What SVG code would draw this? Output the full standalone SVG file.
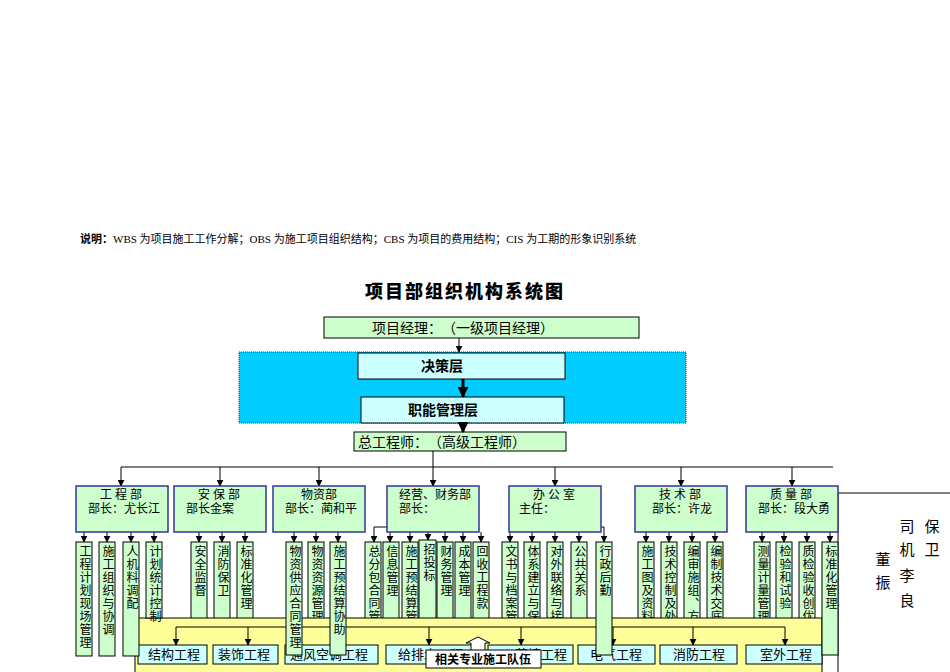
<svg xmlns="http://www.w3.org/2000/svg" width="950" height="672" viewBox="0 0 950 672">
<defs>
<marker id="a" viewBox="0 0 10 10" refX="9" refY="5" markerWidth="7" markerHeight="7" markerUnits="userSpaceOnUse" orient="auto"><path d="M0,0L10,5L0,10z" fill="#000"/></marker>
<marker id="b" viewBox="0 0 10 10" refX="9" refY="5" markerWidth="11" markerHeight="11" markerUnits="userSpaceOnUse" orient="auto"><path d="M0,0L10,5L0,10z" fill="#000"/></marker>
<style>
text{font-family:"Liberation Serif","Noto Sans CJK SC",serif;fill:#000}
.g{fill:#ccffcc;stroke:#000;stroke-width:1}
.d{fill:#ccffcc;stroke:#333399;stroke-width:1.5}
.c{fill:#ccffff;stroke:#000;stroke-width:1}
.v{font-size:12px;writing-mode:vertical-rl;letter-spacing:1px}
.dt{font-size:12px}
.l{stroke:#000;fill:none;stroke-width:1}
.la{stroke:#000;fill:none;stroke-width:1;marker-end:url(#a)}
</style>
</defs>
<rect width="950" height="672" fill="#fff"/>
<text x="80" y="243" font-size="11"><tspan font-weight="bold">说明：</tspan>WBS 为项目施工工作分解；OBS 为施工项目组织结构；CBS 为项目的费用结构；CIS 为工期的形象识别系统</text>
<text x="465" y="298" font-size="18" font-weight="900" text-anchor="middle" font-family="Noto Sans CJK SC,sans-serif" letter-spacing="2">项目部组织机构系统图</text>
<g id="pm"><rect class="g" x="324" y="317" width="315" height="21"/><text x="372" y="333" font-size="14">项目经理：　（一级项目经理）</text></g>
<g id="band"><rect x="239" y="352" width="447" height="71" fill="#00ccff" stroke="#336" stroke-dasharray="1,1"/></g>
<g id="jc"><rect class="c" x="358" y="353" width="207" height="26"/><text x="421" y="371" font-size="14" font-weight="bold">决策层</text></g>
<g id="zn"><rect class="c" x="361" y="397" width="203" height="26"/><text x="408" y="415" font-size="14" font-weight="bold">职能管理层</text></g>
<g id="ce"><rect class="g" x="354" y="432" width="212" height="19"/><text x="358" y="447" font-size="14">总工程师：　（高级工程师）</text></g>
<g id="conn">
<path class="la" d="M459,338V352"/>
<path d="M463,379V397" stroke="#000" stroke-width="3" marker-end="url(#b)"/>
<path d="M463,423V432" stroke="#000" stroke-width="3" marker-end="url(#b)"/>
<path class="l" d="M121,467H833M433,451V467"/>
<path class="la" d="M121,467V486"/><path class="la" d="M220,467V486"/><path class="la" d="M319,467V486"/><path class="la" d="M433,467V486"/><path class="la" d="M555,467V486"/><path class="la" d="M681,467V486"/><path class="la" d="M792,467V486"/>
<path class="la" d="M84,532V542"/><path class="la" d="M107,532V542"/><path class="la" d="M131,532V542"/><path class="la" d="M154,532V542"/>
<path class="la" d="M199,532V542"/><path class="la" d="M222,532V542"/><path class="la" d="M245,532V542"/>
<path class="la" d="M294,532V542"/><path class="la" d="M316,532V542"/><path class="la" d="M338,532V542"/>
<path class="la" d="M390,532V542"/><path class="la" d="M410,532V542"/><path class="la" d="M428,532V540"/><path class="la" d="M445,532V542"/><path class="la" d="M463,532V542"/><path class="la" d="M481,532V542"/>
<path class="la" d="M510,532V542"/><path class="la" d="M532,532V542"/><path class="la" d="M555,532V542"/><path class="la" d="M579,532V542"/>
<path class="la" d="M646,532V542"/><path class="la" d="M669,532V542"/><path class="la" d="M692,532V542"/><path class="la" d="M715,532V542"/>
<path class="la" d="M762,532V542"/><path class="la" d="M784,532V542"/><path class="la" d="M807,532V542"/><path class="la" d="M830,532V542"/>
<path class="la" d="M387,527H374V542"/>
<path class="la" d="M601,527H604V542"/>
</g>
<g id="subs">
<g><rect class="g" x="191" y="542" width="16" height="80"/><text class="v" x="199" y="545">安全监督</text></g>
<g><rect class="g" x="214" y="542" width="16" height="80"/><text class="v" x="222" y="545">消防保卫</text></g>
<g><rect class="g" x="237" y="542" width="16" height="80"/><text class="v" x="245" y="545">标准化管理</text></g>
<g><rect class="g" x="308" y="542" width="16" height="80"/><text class="v" x="316" y="545">物资资源管理</text></g>
<g><rect class="g" x="365" y="542" width="16" height="80"/><text class="v" x="373" y="545">总分包合同管理</text></g>
<g><rect class="g" x="383" y="542" width="16" height="80"/><text class="v" x="391" y="545">信息管理</text></g>
<g><rect class="g" x="402" y="542" width="16" height="80"/><text class="v" x="410" y="545">施工预结算管理</text></g>
<g><rect class="g" x="419" y="540" width="17" height="82"/><text class="v" x="428" y="543">招投标</text></g>
<g><rect class="g" x="437" y="542" width="16" height="80"/><text class="v" x="445" y="545">财务管理</text></g>
<g><rect class="g" x="455" y="542" width="16" height="80"/><text class="v" x="463" y="545">成本管理</text></g>
<g><rect class="g" x="473" y="542" width="16" height="80"/><text class="v" x="481" y="545">回收工程款</text></g>
<g><rect class="g" x="502" y="542" width="16" height="80"/><text class="v" x="510" y="545">文书与档案管理</text></g>
<g><rect class="g" x="524" y="542" width="16" height="80"/><text class="v" x="532" y="545">体系建立与保持</text></g>
<g><rect class="g" x="547" y="542" width="16" height="80"/><text class="v" x="555" y="545">对外联络与接待</text></g>
<g><rect class="g" x="571" y="542" width="16" height="80"/><text class="v" x="579" y="545">公共关系</text></g>
<g><rect class="g" x="638" y="542" width="16" height="80"/><text class="v" x="646" y="545">施工图及资料</text></g>
<g><rect class="g" x="661" y="542" width="16" height="80"/><text class="v" x="669" y="545">技术控制及处理</text></g>
<g><rect class="g" x="684" y="542" width="16" height="80"/><text class="v" x="692" y="545">编审施组、方案</text></g>
<g><rect class="g" x="707" y="542" width="16" height="80"/><text class="v" x="715" y="545">编制技术交底</text></g>
<g><rect class="g" x="754" y="542" width="16" height="80"/><text class="v" x="762" y="545">测量计量管理</text></g>
<g><rect class="g" x="776" y="542" width="16" height="80"/><text class="v" x="784" y="545">检验和试验</text></g>
<g><rect class="g" x="799" y="542" width="16" height="80"/><text class="v" x="807" y="545">质检验收创优</text></g>
</g>
<g id="side"><rect x="838" y="493" width="114" height="182" fill="#fff" stroke="#000"/>
<text x="883" y="565" font-size="15" text-anchor="middle">董</text><text x="883" y="588" font-size="15" text-anchor="middle">振</text>
<text x="907" y="532" font-size="15" text-anchor="middle">司</text><text x="907" y="555" font-size="15" text-anchor="middle">机</text><text x="907" y="581" font-size="15" text-anchor="middle">李</text><text x="907" y="606" font-size="15" text-anchor="middle">良</text>
<text x="932" y="532" font-size="15" text-anchor="middle">保</text><text x="932" y="555" font-size="15" text-anchor="middle">卫</text></g>
<g id="depts">
<g><rect class="d" x="76" y="486" width="92" height="46"/><text class="dt" x="100" y="499">工 程 部</text><text class="dt" x="88" y="513">部长：尤长江</text></g>
<g><rect class="d" x="174" y="486" width="92" height="46"/><text class="dt" x="198" y="499">安 保 部</text><text class="dt" x="186" y="513">部长金案</text></g>
<g><rect class="d" x="273" y="486" width="92" height="46"/><text class="dt" x="301" y="499">物资部</text><text class="dt" x="285" y="513">部长：蔺和平</text></g>
<g><rect class="d" x="387" y="486" width="92" height="46"/><text class="dt" x="399" y="499">经营、财务部</text><text class="dt" x="399" y="513">部长：</text></g>
<g><rect class="d" x="509" y="486" width="92" height="46"/><text class="dt" x="533" y="499">办 公 室</text><text class="dt" x="519" y="513">主任：</text></g>
<g><rect class="d" x="635" y="486" width="92" height="46"/><text class="dt" x="659" y="499">技 术 部</text><text class="dt" x="652" y="513">部长：许龙</text></g>
<g><rect class="d" x="746" y="486" width="92" height="46"/><text class="dt" x="770" y="499">质 量 部</text><text class="dt" x="758" y="513">部长：段大勇</text></g>
</g>
<g id="teams">
<rect x="135" y="618" width="687" height="56" fill="#ffff99" stroke="#000"/>
<path class="l" d="M176,627H785"/>
<path class="la" d="M176,627V645"/><path class="la" d="M248,627V645"/><path class="la" d="M429,627V645"/><path class="la" d="M521,627V645"/><path class="la" d="M613,627V645"/><path class="la" d="M693,627V645"/><path class="la" d="M785,627V645"/>
<g font-size="13">
<rect class="c" x="138" y="645" width="69" height="19"/><text x="148" y="659">结构工程</text>
<rect class="c" x="213" y="645" width="65" height="19"/><text x="218" y="659">装饰工程</text>
<rect class="c" x="285" y="645" width="93" height="19"/><text x="290" y="659">通风空调工程</text>
<rect class="c" x="386" y="645" width="94" height="19"/><text x="398" y="659">给排水工程</text>
<rect class="c" x="488" y="645" width="85" height="19"/><text x="515" y="659">幕墙工程</text>
<rect class="c" x="578" y="645" width="77" height="19"/><text x="590" y="659">电气工程</text>
<rect class="c" x="660" y="645" width="77" height="19"/><text x="673" y="659">消防工程</text>
<rect class="c" x="746" y="645" width="76" height="19"/><text x="760" y="659">室外工程</text>
</g>
<path d="M471,650V643H466L478,637L490,643H485V650" fill="#fff" stroke="#000"/>
<rect x="426" y="650" width="115" height="18" fill="#fff" stroke="#000"/>
<text x="483" y="664" font-size="12" font-weight="bold" text-anchor="middle" font-family="Noto Sans CJK SC,sans-serif">相关专业施工队伍</text>
</g>
<g id="long">
<g><rect class="g" x="76" y="542" width="16" height="114"/><text class="v" x="84" y="545">工程计划现场管理</text></g>
<g><rect class="g" x="99" y="542" width="16" height="114"/><text class="v" x="107" y="545">施工组织与协调</text></g>
<g><rect class="g" x="123" y="542" width="16" height="114"/><text class="v" x="131" y="545">人机料调配</text></g>
<g><rect class="g" x="146" y="542" width="16" height="76"/><text class="v" x="154" y="545">计划统计控制</text></g>
<g><rect class="g" x="286" y="542" width="16" height="113"/><text class="v" x="294" y="545">物资供应合同管理</text></g>
<g><rect class="g" x="330" y="542" width="16" height="113"/><text class="v" x="338" y="545">施工预结算协助</text></g>
<g><rect class="g" x="596" y="542" width="16" height="113"/><text class="v" x="604" y="545">行政后勤</text></g>
<g><rect class="g" x="822" y="542" width="16" height="113"/><text class="v" x="830" y="545">标准化管理</text></g>
</g>
</svg>
